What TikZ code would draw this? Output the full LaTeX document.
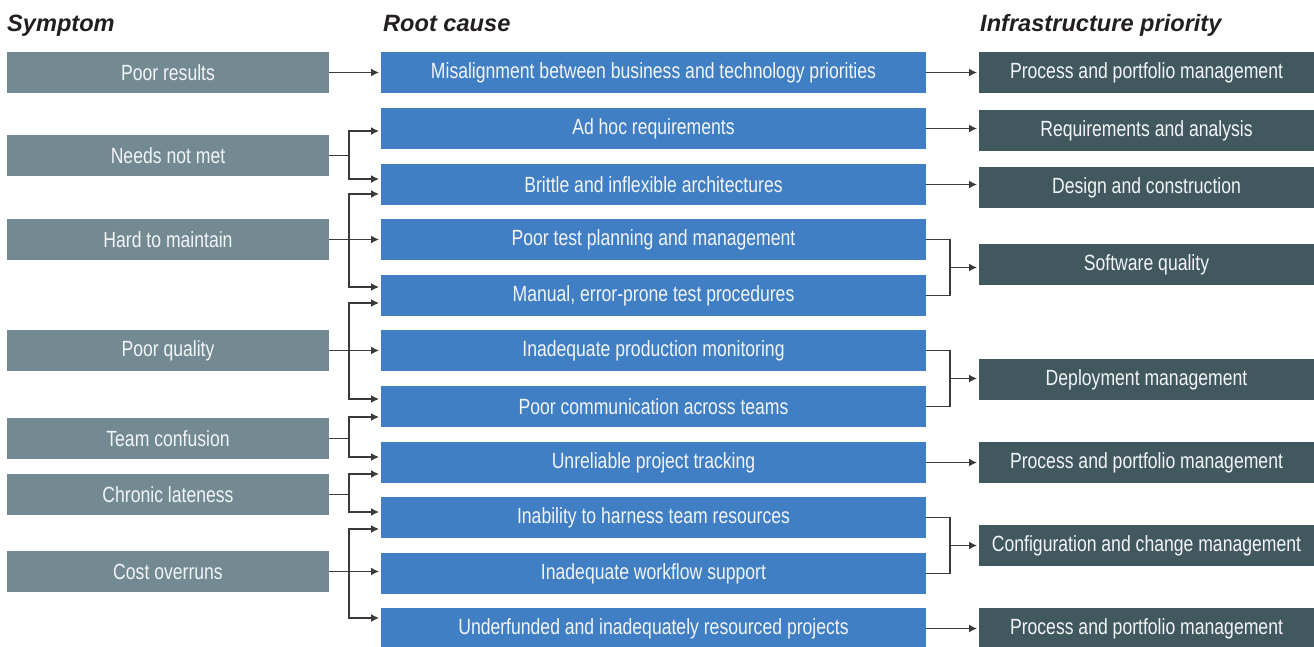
\documentclass[tikz,border=0pt]{standalone}
\usepackage{fontspec}
\setmainfont{Liberation Sans}
\newfontfamily\boxfont[FakeStretch=0.80]{Liberation Sans}
\usetikzlibrary{arrows.meta,calc}
\definecolor{symcol}{HTML}{738A93}
\definecolor{rootcol}{HTML}{407FC4}
\definecolor{infcol}{HTML}{41585F}
\definecolor{txtcol}{HTML}{F2F4F6}
\definecolor{linecol}{HTML}{3A3A3A}
\definecolor{hdrcol}{HTML}{231F20}
\begin{document}
\begin{tikzpicture}[x=1pt,y=-1pt,
  box/.style={anchor=north west,minimum height=41pt,inner sep=0pt,outer sep=0pt,text=txtcol,font=\boxfont\fontsize{22}{24}\selectfont},
  sym/.style={box,fill=symcol,minimum width=322pt},
  root/.style={box,fill=rootcol,minimum width=545pt},
  inf/.style={box,fill=infcol,minimum width=335pt},
  hdr/.style={anchor=base west,inner sep=0pt,text=hdrcol,font=\fontsize{23.6}{26}\selectfont\bfseries\itshape},
  line/.style={draw=linecol,line width=1.4pt},
  arr/.style={line,-{Latex[length=8pt,width=8pt]},shorten >=2pt}]
\clip (0,0) rectangle (1314,646);
\useasboundingbox (0,0) rectangle (1314,646);
% headers
\node[hdr] (h1) at (7,31) {Symptom};
\node[hdr] (h2) at (383,31) {Root cause};
\node[hdr] (h3) at (980,31) {Infrastructure priority};
% symptoms
\node[sym] (s1) at (7,52) {Poor results};
\node[sym] (s2) at (7,135) {Needs not met};
\node[sym] (s3) at (7,219) {Hard to maintain};
\node[sym] (s4) at (7,330) {Poor quality};
\node[sym] (s5) at (7,418) {Team confusion};
\node[sym] (s6) at (7,474) {Chronic lateness};
\node[sym] (s7) at (7,551) {Cost overruns};
% root causes
\node[root] (r1) at (381,52) {Misalignment between business and technology priorities};
\node[root] (r2) at (381,108) {Ad hoc requirements};
\node[root] (r3) at (381,164) {Brittle and inflexible architectures};
\node[root] (r4) at (381,219) {Poor test planning and management};
\node[root] (r5) at (381,275) {Manual, error-prone test procedures};
\node[root] (r6) at (381,330) {Inadequate production monitoring};
\node[root] (r7) at (381,386) {Poor communication across teams};
\node[root] (r8) at (381,442) {Unreliable project tracking};
\node[root] (r9) at (381,497) {Inability to harness team resources};
\node[root] (r10) at (381,553) {Inadequate workflow support};
\node[root] (r11) at (381,608) {Underfunded and inadequately resourced projects};
% infrastructure priorities
\node[inf] (i1) at (979,52) {Process and portfolio management};
\node[inf] (i2) at (979,110) {Requirements and analysis};
\node[inf] (i3) at (979,167) {Design and construction};
\node[inf] (i4) at (979,244) {Software quality};
\node[inf] (i5) at (979,359) {Deployment management};
\node[inf] (i6) at (979,442) {Process and portfolio management};
\node[inf] (i7) at (979,525) {Configuration and change management};
\node[inf] (i8) at (979,608) {Process and portfolio management};
% symptom -> root cause
\draw[arr] (s1.east) -- (r1.west);
\draw[arr] (s2.east) -- ++(20,0) |- ([yshift=-2.5pt]r2.west);
\draw[arr] (s2.east) -- ++(20,0) |- ([yshift=5.5pt]r3.west);
\draw[arr] (s3.east) -- ++(20,0) |- ([yshift=-9.5pt]r3.west);
\draw[arr] (s3.east) -- (s3.east -| r4.west);
\draw[arr] (s3.east) -- ++(20,0) |- ([yshift=8.5pt]r5.west);
\draw[arr] (s4.east) -- ++(20,0) |- ([yshift=-7.5pt]r5.west);
\draw[arr] (s4.east) -- (s4.east -| r6.west);
\draw[arr] (s4.east) -- ++(20,0) |- ([yshift=7.5pt]r7.west);
\draw[arr] (s5.east) -- ++(20,0) |- ([yshift=-10.5pt]r7.west);
\draw[arr] (s5.east) -- ++(20,0) |- ([yshift=5.5pt]r8.west);
\draw[arr] (s6.east) -- ++(20,0) |- ([yshift=-11.5pt]r8.west);
\draw[arr] (s6.east) -- ++(20,0) |- ([yshift=5.5pt]r9.west);
\draw[arr] (s7.east) -- ++(20,0) |- ([yshift=-11.5pt]r9.west);
\draw[arr] (s7.east) -- (s7.east -| r10.west);
\draw[arr] (s7.east) -- ++(20,0) |- ([yshift=10.5pt]r11.west);
% root cause -> infrastructure
\draw[arr] (r1.east) -- (i1.west);
\draw[arr] (r2.east) -- (r2.east -| i2.west);
\draw[arr] (r3.east) -- (r3.east -| i3.west);
\draw[arr] (r8.east) -- (i6.west);
\draw[arr] (r11.east) -- (r11.east -| i8.west);
\draw[line] (r4.east) -- ++(24,0) |- (r5.east);
\coordinate (m45) at ($($(r4.east)!0.5!(r5.east)$)+(24,0)$);
\draw[arr] (m45) -- (m45 -| i4.west);
\draw[line] (r6.east) -- ++(24,0) |- (r7.east);
\coordinate (m67) at ($($(r6.east)!0.5!(r7.east)$)+(24,0)$);
\draw[arr] (m67) -- (m67 -| i5.west);
\draw[line] (r9.east) -- ++(24,0) |- (r10.east);
\coordinate (m910) at ($($(r9.east)!0.5!(r10.east)$)+(24,0)$);
\draw[arr] (m910) -- (m910 -| i7.west);
\end{tikzpicture}
\end{document}
